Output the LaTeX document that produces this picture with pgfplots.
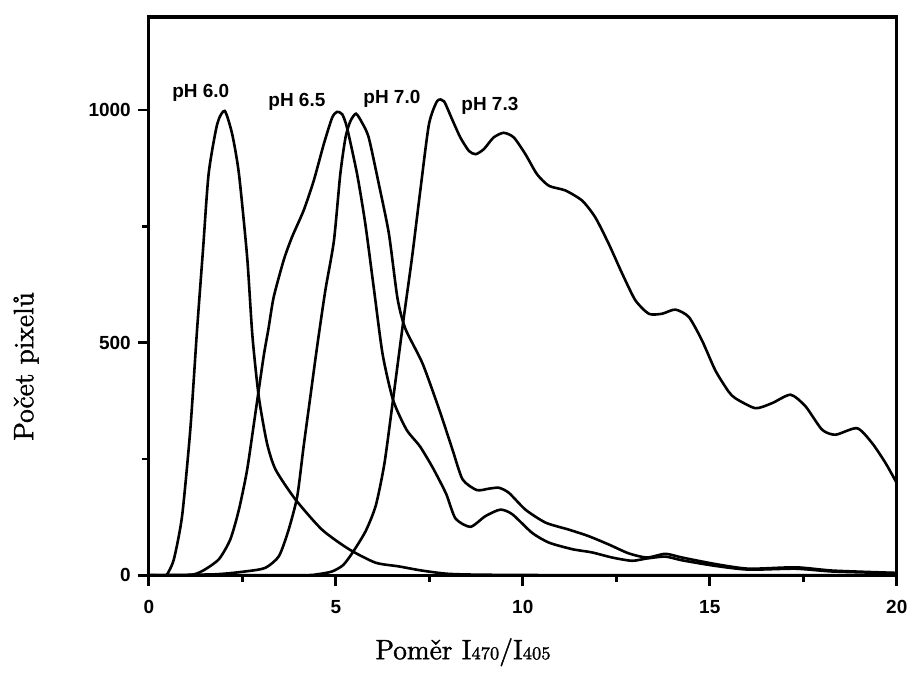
\documentclass[border=0pt]{standalone}
\usepackage{pgfplots}
\pgfplotsset{compat=1.18}
\usepackage{fontspec}
\newfontfamily\sansb{Liberation Sans}
\newfontfamily\labfont{Latin Modern Roman}[FakeBold=1.6]
\begin{document}
\begin{tikzpicture}
\begin{axis}[
  scale only axis, width=374.5pt, height=279.5pt,
  xmin=0, xmax=20, ymin=0, ymax=1200,
  xtick={0,5,10,15,20}, ytick={0,500,1000},
  minor xtick={2.5,7.5,12.5,17.5}, minor ytick={250,750},
  xtick pos=left, ytick pos=left, tick align=outside,
  major tick length=5.5pt, minor tick length=3.5pt,
  every tick/.style={black, line width=1.3pt},
  axis line style={line width=1.6pt},
  tick label style={font=\sansb\bfseries\fontsize{9.5}{10}\selectfont},
  /pgf/number format/assume math mode=true,
  /pgf/number format/1000 sep={},
  xticklabel style={yshift=-3.5pt},
  xlabel={Poměr I{\fontsize{9}{9}\selectfont 470}/I{\fontsize{9}{9}\selectfont 405}},
  ylabel={Počet pixelů},
  label style={font=\labfont\fontsize{14}{16}\selectfont},
  xlabel style={at={(axis description cs:0.42,-0.138)}, anchor=center},
  ylabel style={at={(axis description cs:-0.164,0.374)}, anchor=center},
  curve/.style={black, line width=1.3pt, smooth, tension=0.4, mark=none},
]
% pH 6.0
\addplot[curve] coordinates {
(0,0) (0.4,0) (0.49,2) (0.67,34) (0.89,127) (1.11,313) (1.29,527) (1.45,700)
(1.60,863) (1.83,970) (2.03,998) (2.23,948) (2.41,863) (2.63,684) (2.77,515)
(2.94,384) (3.16,284) (3.39,227) (3.92,163) (4.63,98) (5.35,56) (6.06,27)
(6.68,19) (7.3,10) (8.0,3) (9,1) (12,0) (20,0)
};
% pH 6.5
\addplot[curve] coordinates {
(0,0) (1.07,0) (1.43,9) (1.87,34) (2.18,77) (2.41,141) (2.63,227) (2.85,348)
(3.07,470) (3.2,530) (3.34,598) (3.61,678) (3.83,727) (4.14,784) (4.41,848)
(4.68,927) (4.90,983) (5.03,996) (5.17,991) (5.30,962) (5.57,862) (5.79,755)
(6.02,615) (6.25,476) (6.53,377) (6.89,313) (7.25,277) (7.60,230) (7.95,175)
(8.2,122) (8.6,104) (9.0,127) (9.40,141) (9.72,131) (10.25,91) (10.70,70)
(11.32,56) (11.85,49) (12.39,38) (12.92,31) (13.32,36) (13.81,40) (14.26,32)
(15.15,20) (16.04,12) (17.29,14) (18.27,8) (19.6,5) (20,4)
};
% pH 7.0
\addplot[curve] coordinates {
(0,0) (1.78,2) (2.67,9) (3.12,16) (3.48,41) (3.74,98) (3.97,170) (4.14,277)
(4.32,384) (4.50,491) (4.72,612) (4.95,719) (5.12,862) (5.26,941) (5.39,976)
(5.54,992) (5.70,973) (5.88,941) (6.15,841) (6.42,734) (6.65,595) (6.86,530)
(7.32,455) (7.77,355) (8.12,270) (8.39,206) (8.77,183) (9.09,186) (9.36,188)
(9.63,177) (10.07,141) (10.61,113) (11.23,98) (11.76,84) (12.30,66) (12.83,47)
(13.32,38) (13.81,46) (14.26,38) (15.15,24) (16.04,14) (17.29,17) (18.27,10)
(19.6,6) (20,5)
};
% pH 7.3
\addplot[curve] coordinates {
(0,0) (4.0,0) (4.5,2) (4.9,8) (5.2,22) (5.46,50) (5.8,95) (6.07,150) (6.3,240)
(6.53,377) (6.82,555) (7.04,684) (7.26,827) (7.49,969) (7.71,1019) (7.89,1019)
(8.11,980) (8.33,941) (8.56,912) (8.74,905) (8.96,916) (9.22,941) (9.49,951)
(9.76,941) (10.07,905) (10.38,862) (10.70,837) (11.14,827) (11.59,805)
(11.94,769) (12.30,712) (12.66,648) (13.01,591) (13.37,562) (13.72,562)
(14.08,571) (14.44,555) (14.79,505) (15.15,440) (15.5,395) (15.69,380)
(16.22,359) (16.67,370) (17.16,388) (17.56,363) (18.0,313) (18.36,302)
(18.94,316) (19.34,284) (19.70,241) (20.0,198)
};
\node[font=\sansb\bfseries\fontsize{9.5}{10}\selectfont] at (axis cs:1.39,1036) {pH 6.0};
\node[font=\sansb\bfseries\fontsize{9.5}{10}\selectfont] at (axis cs:3.96,1017) {pH 6.5};
\node[font=\sansb\bfseries\fontsize{9.5}{10}\selectfont] at (axis cs:6.50,1024) {pH 7.0};
\node[font=\sansb\bfseries\fontsize{9.5}{10}\selectfont] at (axis cs:9.12,1009) {pH 7.3};
\end{axis}
\path (current axis.south west) ++(-74.5pt,-45.5pt) coordinate (bl);
\path (current axis.north east) ++(8pt,8.5pt) coordinate (tr);
\path (bl) rectangle (tr);
\end{tikzpicture}
\end{document}
